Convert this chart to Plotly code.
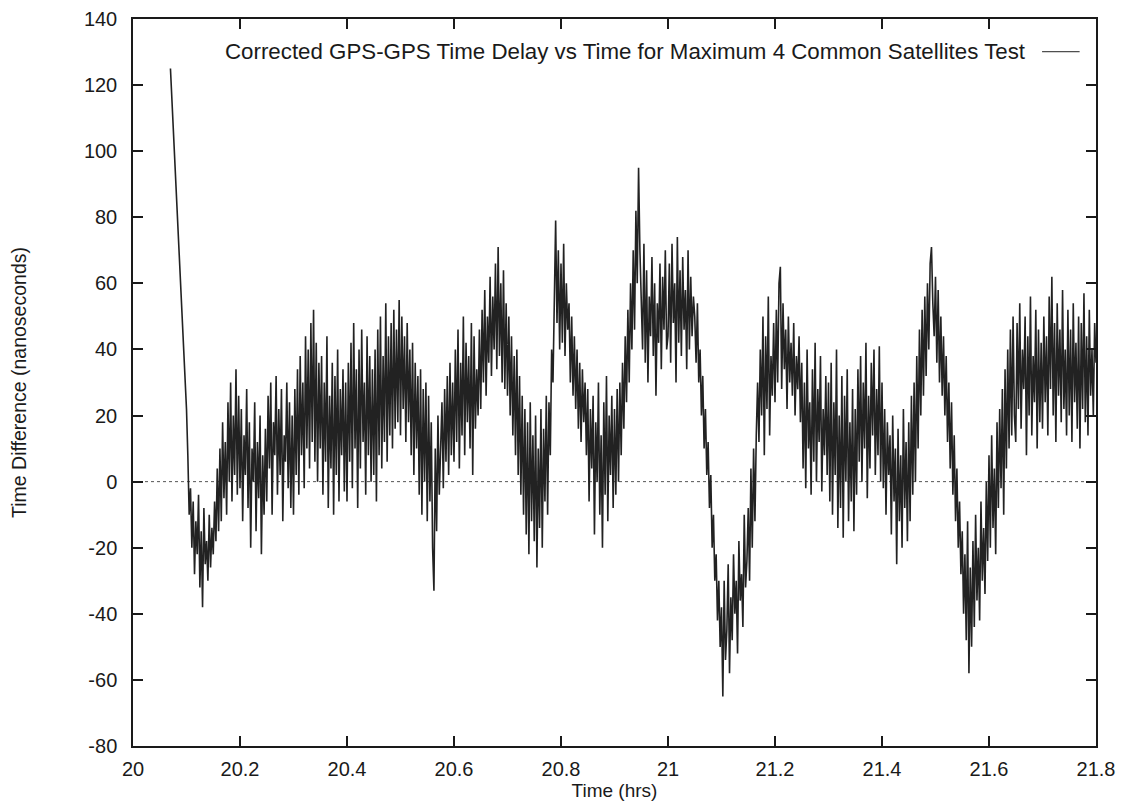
import plotly.graph_objects as go

# ---- data ----
t_start_gap = 20.07          # first (isolated) sample before the data gap
v_start_gap = 125
t0 = 20.10                   # regular sampling start (hrs)
dt = 0.0025                  # sampling step (hrs)

delay_ns = [
    # 20.10 - 20.15
    22, 8, -10, -2, -20, -6, -28, -12, -22, -4, -32, -15, -38, -8, -25, -18, -30, -10, -26, -14,
    # 20.15 - 20.20
    -22, -6, -18, 4, -15, 10, -12, 18, -5, 12, -10, 24, 0, 30, -6, 20, 2, 34, -4, 26,
    # 20.20 - 20.25
    -2, 22, -12, 14, 2, 28, -8, 18, -20, 10, 0, 24, -15, 12, -5, 20, -22, 8, -10, 16,
    # 20.25 - 20.30
    -6, 26, 4, 30, -10, 18, 8, 32, -4, 22, 2, 28, -12, 14, 6, 30, -2, 24, -8, 20,
    # 20.30 - 20.35
    -10, 28, 2, 34, -4, 38, 8, 30, -2, 44, 10, 40, 4, 48, 12, 52, 6, 42, 0, 36,
    # 20.35 - 20.40
    10, 38, -4, 30, 6, 44, -8, 26, 4, 36, -10, 32, 2, 40, -6, 28, 8, 34, -3, 30,
    # 20.40 - 20.45
    -6, 36, 6, 42, -2, 48, 10, 34, -8, 40, 4, 46, 12, 30, -4, 44, 8, 38, 0, 34,
    # 20.45 - 20.50
    2, 40, -6, 46, 8, 50, 4, 38, 12, 54, 6, 44, 14, 48, 10, 52, 16, 46, 18, 55,
    # 20.50 - 20.55
    14, 50, 22, 44, 12, 48, 18, 40, 8, 42, 2, 36, 10, 32, -4, 34, -10, 28, 0, 30,
    # 20.55 - 20.60
    -12, 26, -6, 18, -20, -33, 10, -15, 20, -4, 14, 24, -2, 28, 6, 32, 2, 36, 8, 30,
    # 20.60 - 20.65
    6, 40, 12, 46, 4, 36, 14, 50, 8, 42, 18, 38, 10, 48, 2, 44, 16, 34, 20, 46,
    # 20.65 - 20.70
    22, 52, 30, 58, 26, 50, 36, 62, 32, 56, 40, 66, 34, 71, 38, 60, 30, 64, 28, 54,
    # 20.70 - 20.75
    26, 50, 20, 44, 14, 38, 8, 40, 2, 32, -4, 26, -10, 22, -16, 18, -22, 24, -12, 14,
    # 20.75 - 20.80
    -18, 20, -26, 10, -14, 22, -20, 16, -6, 26, -10, 24, 8, 40, 30, 62, 79, 48, 70, 40,
    # 20.80 - 20.85
    66, 42, 72, 38, 60, 46, 54, 30, 50, 26, 44, 22, 40, 16, 36, 12, 34, 18, 30, 8,
    # 20.85 - 20.90
    28, -6, 22, 4, 26, -16, 18, 0, 30, -10, 14, -20, 24, -4, 32, -12, 20, 2, 26, -8,
    # 20.90 - 20.95
    22, -4, 28, 0, 30, 8, 36, 16, 44, 24, 52, 30, 60, 40, 70, 46, 82, 60, 95, 70,
    # 20.95 - 21.00
    58, 40, 72, 36, 64, 30, 56, 44, 68, 38, 60, 26, 54, 42, 66, 34, 62, 46, 70, 40,
    # 21.00 - 21.05
    44, 66, 36, 72, 48, 60, 30, 74, 42, 64, 38, 68, 46, 58, 34, 70, 40, 62, 44, 56,
    # 21.05 - 21.10
    50, 36, 54, 30, 40, 20, 32, 10, 22, 2, 12, -8, 2, -20, -10, -30, -22, -42, -30, -50,
    # 21.10 - 21.15
    -38, -65, -30, -54, -45, -25, -58, -35, -48, -22, -40, -30, -52, -18, -36, -28, -44, -10, -32, -24,
    # 21.15 - 21.20
    -8, -30, 4, -20, 10, -12, 14, 30, 12, 40, 20, 50, 8, 44, 22, 56, 14, 38, 26, 48,
    # 21.20 - 21.25
    24, 52, 30, 60, 65, 28, 54, 34, 46, 22, 50, 30, 42, 26, 48, 20, 38, 28, 44, 18,
    # 21.25 - 21.30
    36, 4, 30, -2, 40, 10, 24, -4, 34, 6, 42, 0, 28, 12, 38, -3, 22, 8, 32, 2,
    # 21.30 - 21.35
    30, -6, 36, -10, 24, 2, 40, -14, 20, -8, 32, -17, 26, 0, 34, -12, 18, -6, 28, -15,
    # 21.35 - 21.40
    22, -4, 34, 6, 38, 0, 30, 10, 42, -5, 26, 4, 36, 14, 40, 2, 28, 8, 41, 0,
    # 21.40 - 21.45
    30, -2, 22, -10, 18, 2, 14, -16, 20, -6, 10, -25, 16, -12, 8, -20, 22, -8, 12, -18,
    # 21.45 - 21.50
    18, -12, 26, -4, 30, 0, 38, 10, 46, 20, 52, 26, 56, 32, 60, 40, 66, 71, 54, 44,
    # 21.50 - 21.55
    62, 36, 58, 30, 50, 26, 44, 20, 38, 12, 30, 4, 24, -4, 14, -12, 4, -20, -6, -28,
    # 21.55 - 21.60
    -15, -40, -22, -48, -12, -58, -26, -50, -18, -44, -10, -36, -20, -42, -6, -30, -14, -34, 0, -24,
    # 21.60 - 21.65
    8, -20, 14, -14, 4, -22, 18, -8, 22, -2, 28, -10, 34, 4, 40, 10, 46, 14, 50, 20,
    # 21.65 - 21.70
    12, 48, 22, 54, 16, 40, 28, 50, 8, 44, 20, 56, 14, 38, 24, 52, 10, 46, 18, 42,
    # 21.70 - 21.75
    16, 50, 24, 44, 14, 56, 28, 62, 20, 48, 12, 54, 26, 46, 18, 58, 22, 40, 14, 52,
    # 21.75 - 21.80
    20, 46, 12, 54, 24, 42, 16, 50, 10, 48, 22, 57, 18, 44, 14, 52, 26, 40, 20, 48, 36,
]

x_ticks = [20, 20.2, 20.4, 20.6, 20.8, 21, 21.2, 21.4, 21.6, 21.8]
y_ticks = [-80, -60, -40, -20, 0, 20, 40, 60, 80, 100, 120, 140]
legend_label = "Corrected GPS-GPS Time Delay vs Time for Maximum 4 Common Satellites Test"

times = [t_start_gap] + [round(t0 + dt * i, 5) for i in range(len(delay_ns))]
values = [v_start_gap] + delay_ns

FONT = "Liberation Sans, Arial, Helvetica, sans-serif"
INK = "#1a1a1a"
LINE = "#222222"

fig = go.Figure()
fig.add_trace(go.Scatter(
    x=times, y=values, mode="lines",
    line=dict(color=LINE, width=1.6),
    name=legend_label, showlegend=False,
))

# zero reference line (dotted)
fig.add_shape(type="line", xref="paper", yref="y", x0=0, x1=1, y0=0, y1=0,
              line=dict(color="#555555", width=1, dash="dot"), layer="below")

# legend: text with the line sample on its right (gnuplot style)
fig.add_annotation(xref="paper", yref="paper", x=0.929, y=0.955,
                   xanchor="right", yanchor="middle", showarrow=False,
                   text=legend_label, font=dict(family=FONT, size=22.3, color=INK))
fig.add_shape(type="line", xref="paper", yref="paper", x0=0.944, x1=0.983,
              y0=0.955, y1=0.955, line=dict(color=LINE, width=1))

axis_common = dict(
    showline=True, linecolor=INK, linewidth=1.5, mirror="ticks",
    ticks="inside", ticklen=10, tickwidth=1.5, tickcolor=INK,
    showgrid=False, zeroline=False, automargin=False,
    tickfont=dict(family=FONT, size=20, color=INK),
)

fig.update_layout(
    width=1132, height=802,
    margin=dict(l=133, r=36, t=19, b=56),
    paper_bgcolor="white", plot_bgcolor="white",
    xaxis=dict(range=[20, 21.8], tickvals=x_ticks,
               ticktext=[("%g" % v) for v in x_ticks],
               ticklabelstandoff=4,
               title=dict(text="Time (hrs)", standoff=0,
                          font=dict(family=FONT, size=19, color=INK)),
               **axis_common),
    yaxis=dict(range=[-80, 140], tickvals=y_ticks,
               ticktext=[str(v) for v in y_ticks],
               ticklabelstandoff=10,
               title=dict(text="Time Difference (nanoseconds)", standoff=52,
                          font=dict(family=FONT, size=19.5, color=INK)),
               **axis_common),
)

fig.write_html("out.html")
